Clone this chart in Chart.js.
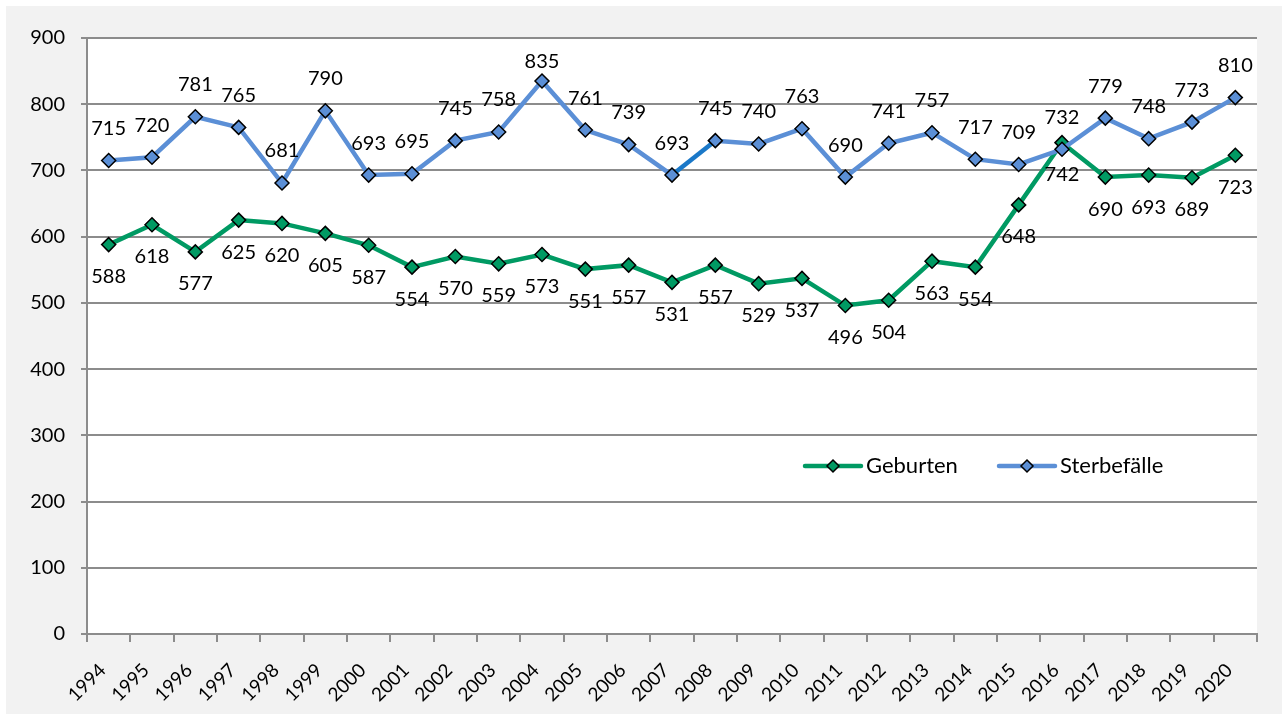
<!DOCTYPE html>
<html>
<head>
<meta charset="utf-8">
<script src="https://cdn.jsdelivr.net/npm/chart.js@4"></script>
<style>
  html, body { margin: 0; padding: 0; background: #ffffff; }
  #wrap { width: 1288px; height: 720px; position: relative; }
</style>
</head>
<body>
<div id="wrap"><canvas id="chart"></canvas></div>
<script>
// Jahre und Werte
const years = ["1994", "1995", "1996", "1997", "1998", "1999", "2000", "2001", "2002",
  "2003", "2004", "2005", "2006", "2007", "2008", "2009", "2010", "2011", "2012",
  "2013", "2014", "2015", "2016", "2017", "2018", "2019", "2020"];
const geburten = [588, 618, 577, 625, 620, 605, 587, 554, 570, 559, 573, 551, 557, 531,
  557, 529, 537, 496, 504, 563, 554, 648, 742, 690, 693, 689, 723];
const sterbefaelle = [715, 720, 781, 765, 681, 790, 693, 695, 745, 758, 835, 761, 739, 693,
  745, 740, 763, 690, 741, 757, 717, 709, 732, 779, 748, 773, 810];
const yTicks = [0, 100, 200, 300, 400, 500, 600, 700, 800, 900];

const GREEN = "#009a63";
const BLUE = "#5b8fd6";
const FONT = "Lato, 'Open Sans', sans-serif";

// Hintergrund: graue Fläche, weißer Zeichenbereich
const background = {
  id: "background",
  beforeDraw(chart) {
    const { ctx, chartArea: a } = chart;
    ctx.save();
    ctx.fillStyle = "#ffffff";
    ctx.fillRect(0, 0, chart.width, chart.height);
    ctx.fillStyle = "#f2f2f2";
    ctx.fillRect(6, 6, chart.width - 12, chart.height - 12);
    ctx.fillStyle = "#ffffff";
    ctx.fillRect(a.left, a.top, a.right - a.left, a.bottom - a.top);
    ctx.restore();
  }
};

// Werte an den Punkten (Sterbefälle oben, Geburten unten)
const valueLabels = {
  id: "valueLabels",
  afterDatasetsDraw(chart) {
    const ctx = chart.ctx;
    const area = chart.chartArea;
    ctx.save();
    ctx.font = "20px " + FONT;
    ctx.fillStyle = "#000000";
    ctx.textAlign = "center";
    ctx.textBaseline = "middle";
    chart.data.datasets.forEach((ds, i) => {
      const meta = chart.getDatasetMeta(i);
      const dy = ds.label === "Sterbefälle" ? -32 : 32;
      meta.data.forEach((pt, j) => {
        let x = pt.x;
        if (x - 17 < area.left) x = area.left + 17;
        let y = pt.y + dy;
        if (y < area.top + 24) y = area.top + 24;
        ctx.fillText(String(ds.data[j]), x, y);
      });
    });
    ctx.restore();
  }
};

// Legende innerhalb des Diagramms
const innerLegend = {
  id: "innerLegend",
  afterDraw(chart) {
    const ctx = chart.ctx;
    const items = [
      { label: "Geburten", color: GREEN, x: 805 },
      { label: "Sterbefälle", color: BLUE, x: 999 }
    ];
    const y = 466;
    ctx.save();
    items.forEach(it => {
      ctx.strokeStyle = it.color;
      ctx.lineWidth = 4.5;
      ctx.lineCap = "round";
      ctx.beginPath();
      ctx.moveTo(it.x, y);
      ctx.lineTo(it.x + 56, y);
      ctx.stroke();
      const cx = it.x + 28;
      ctx.beginPath();
      ctx.moveTo(cx, y - 6);
      ctx.lineTo(cx + 6, y);
      ctx.lineTo(cx, y + 6);
      ctx.lineTo(cx - 6, y);
      ctx.closePath();
      ctx.fillStyle = it.color;
      ctx.fill();
      ctx.lineWidth = 1.5;
      ctx.strokeStyle = "#000000";
      ctx.stroke();
      ctx.fillStyle = "#000000";
      ctx.font = "22px " + FONT;
      ctx.textAlign = "left";
      ctx.textBaseline = "middle";
      ctx.fillText(it.label, it.x + 61, y);
    });
    ctx.restore();
  }
};

const data = {
  labels: years,
  datasets: [
    {
      label: "Geburten",
      data: geburten,
      borderColor: GREEN,
      backgroundColor: GREEN,
      borderWidth: 4.5,
      pointStyle: "rectRot",
      pointRadius: 7,
      pointBackgroundColor: GREEN,
      pointBorderColor: "#000000",
      pointBorderWidth: 1.5,
      tension: 0,
      order: 1
    },
    {
      label: "Sterbefälle",
      data: sterbefaelle,
      borderColor: BLUE,
      backgroundColor: BLUE,
      borderWidth: 4.5,
      pointStyle: "rectRot",
      pointRadius: 7,
      pointBackgroundColor: BLUE,
      pointBorderColor: "#000000",
      pointBorderWidth: 1.5,
      tension: 0,
      order: 0,
      segment: {
        borderColor: c => (c.p0DataIndex === 13 ? "#1a78c8" : undefined)
      }
    }
  ]
};

const config = {
  type: "line",
  data: data,
  options: {
    responsive: true,
    maintainAspectRatio: false,
    animation: false,
    layout: { padding: { top: 38, right: 31, bottom: 8, left: 0 } },
    plugins: {
      legend: { display: false },
      tooltip: { enabled: false }
    },
    scales: {
      x: {
        offset: true,
        grid: {
          offset: true,
          drawOnChartArea: false,
          drawTicks: true,
          tickLength: 8,
          color: "#8c8c8c",
          lineWidth: 2
        },
        border: { color: "#8c8c8c", width: 2 },
        ticks: {
          minRotation: 45,
          maxRotation: 45,
          autoSkip: false,
          padding: 17,
          labelOffset: -6,
          color: "#000000",
          font: { family: FONT, size: 19 }
        },
        afterFit(s) { s.height = 78; }
      },
      y: {
        min: 0,
        max: 900,
        afterBuildTicks(s) { s.ticks = yTicks.map(v => ({ value: v })); },
        grid: {
          color: "#8c8c8c",
          lineWidth: 2,
          tickLength: 6
        },
        border: { color: "#8c8c8c", width: 2 },
        ticks: {
          padding: 16,
          color: "#000000",
          font: { family: FONT, size: 20 }
        },
        afterFit(s) { s.width = 87; }
      }
    }
  },
  plugins: [background, valueLabels, innerLegend]
};

const ctx = document.getElementById("chart").getContext("2d");
new Chart(ctx, config);
</script>
</body>
</html>
